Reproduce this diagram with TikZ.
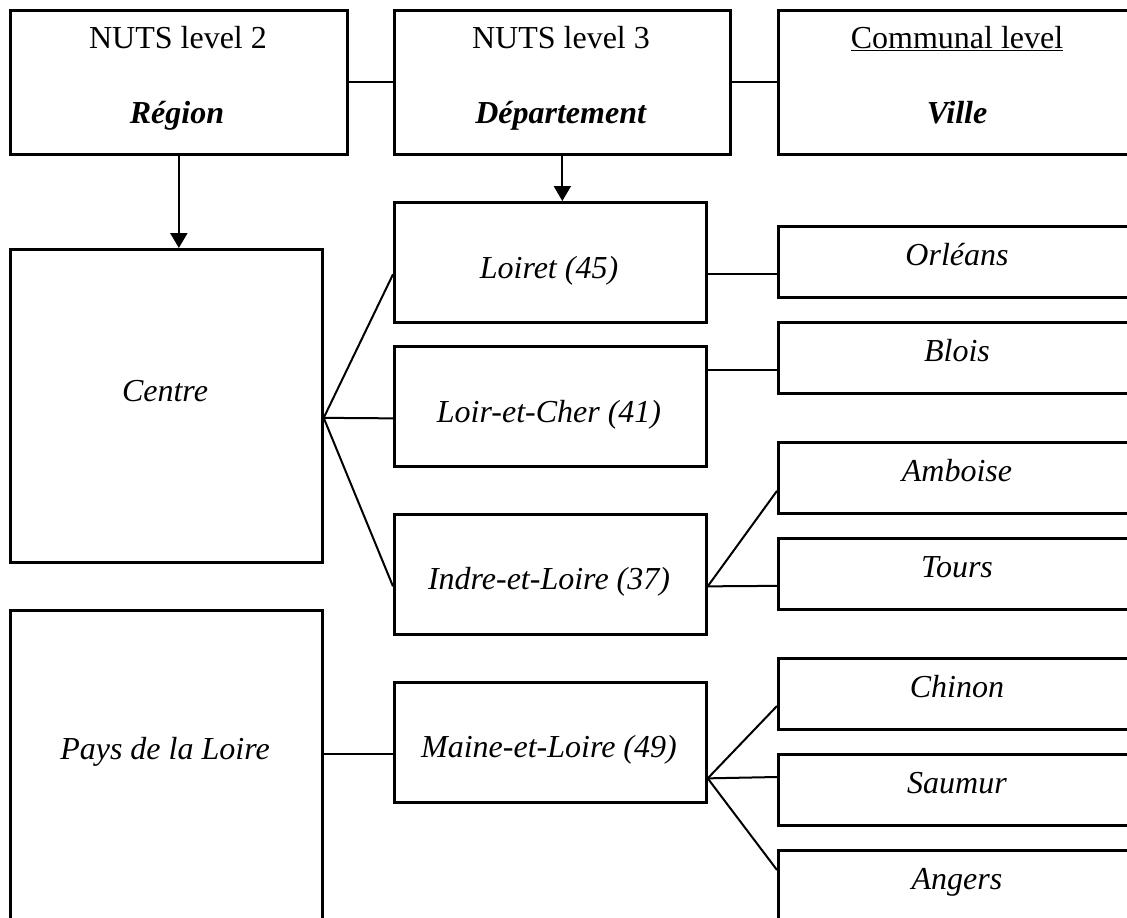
\documentclass[tikz,border=0pt]{standalone}
\usepackage{fontspec}
\setmainfont{Liberation Serif}
\usetikzlibrary{arrows.meta}

\begin{document}
\begin{tikzpicture}[x=1pt, y=-1pt,
        box/.style={draw, line width=2.7pt, anchor=north west, inner sep=0pt},
        dept/.style={box, minimum width=312pt, minimum height=120pt},
        ville/.style={box, minimum width=360pt, minimum height=71pt},
        txt/.style={anchor=base, inner sep=0pt, font=\fontsize{32}{38}\selectfont},
        link/.style={line width=2pt},
        down/.style={line width=2.2pt, -{Triangle[length=15pt, width=17pt]}}]
    \clip (0, 0) rectangle (1127, 918);

    % the three levels
    \node[box, minimum width=337pt, minimum height=144pt] (nuts2) at (9, 9) {};
    \node[box, minimum width=336pt, minimum height=144pt] (nuts3) at (393, 9) {};
    \node[box, minimum width=360pt, minimum height=144pt] (commune) at (777, 9) {};
    \node[txt] (nuts2-a) at (178, 48) {NUTS level 2};
    \node[txt] (nuts2-b) at (177, 123) {\textbf{\textit{Région}}};
    \node[txt] (nuts3-a) at (561, 48) {NUTS level 3};
    \node[txt] (nuts3-b) at (561, 123) {\textbf{\textit{Département}}};
    \node[txt] (commune-a) at (957, 48) {\underline{Communal level}};
    \node[txt] (commune-b) at (957, 123) {\textbf{\textit{Ville}}};
    \draw[link] (nuts2.east) -- (nuts3.west);
    \draw[link] (nuts3.east) -- (commune.west);
    \draw[down] (nuts2.south) -- (nuts2.south |- 0, 248);
    \draw[down] (nuts3.south) -- (nuts3.south |- 0, 201);

    % regions
    \node[box, minimum width=312pt, minimum height=313pt] (centre) at (9, 248) {};
    \node[box, minimum width=312pt, minimum height=360pt] (pays) at (9, 609) {};
    \node[txt] (centre-t) at (165, 401) {\textit{Centre}};
    \node[txt] (pays-t) at (165, 759) {\textit{Pays de la Loire}};

    % departements
    \node[dept] (loiret) at (393, 201) {};
    \node[dept] (loircher) at (393, 345) {};
    \node[dept] (indre) at (393, 513) {};
    \node[dept] (maine) at (393, 681) {};
    \node[txt] (loiret-t) at (549, 278) {\textit{Loiret (45)}};
    \node[txt] (loircher-t) at (549, 422) {\textit{Loir-et-Cher (41)}};
    \node[txt] (indre-t) at (549, 589) {\textit{Indre-et-Loire (37)}};
    \node[txt] (maine-t) at (549, 757) {\textit{Maine-et-Loire (49)}};

    % villes
    \foreach \name/\y/\label in {orleans/225/Orléans, blois/321/Blois,
            amboise/441/Amboise, tours/537/Tours, chinon/657/Chinon,
            saumur/753/Saumur, angers/849/Angers} {
        \node[ville] (\name) at (777, \y) {};
        \node[txt] (\name-t) at (957, \y + 40) {\textit{\label}};
    }

    % links
    \coordinate (centre-fan) at ([yshift=-12pt]centre.east);
    \draw[link] (centre-fan) -- ([yshift=-12pt]loiret.west);
    \draw[link] (centre-fan) -- ([yshift=-12pt]loircher.west);
    \draw[link] (centre-fan) -- ([yshift=-12pt]indre.west);
    \draw[link] (pays.east |- maine.west) ++(0, 12) -- ([yshift=-12pt]maine.west);

    \draw[link] ([yshift=-12pt]loiret.east) -- ([yshift=-12pt]loiret.east -| orleans.west);
    \draw[link] (loircher.east |- blois.west) ++(0, 12) -- ([yshift=-12pt]blois.west);
    \coordinate (indre-fan) at ([yshift=-12pt]indre.east);
    \draw[link] (indre-fan) -- ([yshift=-13pt]amboise.west);
    \draw[link] (indre-fan) -- ([yshift=-12pt]tours.west);
    \coordinate (maine-fan) at ([yshift=-36pt]maine.east);
    \draw[link] (maine-fan) -- ([yshift=-49pt]chinon.north west);
    \draw[link] (maine-fan) -- ([yshift=-24pt]saumur.north west);
    \draw[link] (maine-fan) -- ([yshift=-21pt]angers.north west);
\end{tikzpicture}
\end{document}
